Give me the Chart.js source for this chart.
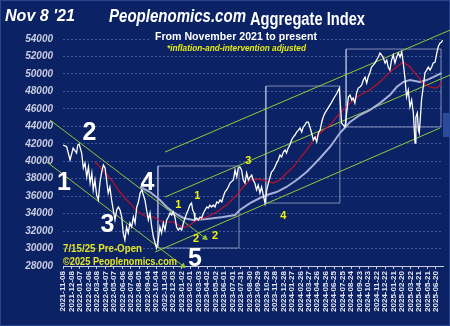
<!DOCTYPE html>
<html><head><meta charset="utf-8">
<script src="https://cdn.jsdelivr.net/npm/chart.js@4.4.1/dist/chart.umd.min.js"></script>
<style>html,body{margin:0;padding:0;background:#0c2364;}canvas{display:block}</style>
</head><body><canvas id="c" width="450" height="326"></canvas>
<script>
// ---- tick labels ----
const xTickLabels = ['2021-11-08','2021-12-08','2022-01-07','2022-02-06','2022-03-08','2022-04-07','2022-05-07','2022-06-06','2022-07-06','2022-08-05','2022-09-04','2022-10-04','2022-11-03','2022-12-03','2023-01-02','2023-02-01','2023-03-03','2023-04-02','2023-05-02','2023-06-01','2023-07-01','2023-07-31','2023-08-30','2023-09-29','2023-10-29','2023-11-28','2023-12-28','2024-01-27','2024-02-26','2024-03-27','2024-04-26','2024-05-26','2024-06-25','2024-07-25','2024-08-24','2024-09-23','2024-10-23','2024-11-22','2024-12-22','2025-01-21','2025-02-20','2025-03-22','2025-04-21','2025-05-21','2025-06-20'];
const yTicks = [28000,30000,32000,34000,36000,38000,40000,42000,44000,46000,48000,50000,52000,54000];
const xEndDate = '2025-07-15';

// ---- series (days since 2021-11-08, index value) ----
const priceDays = [0,13,25,36,48,52,57,66,72,78,84,90,96,102,107,113,119,125,131,137,143,149,155,160,166,172,178,184,190,196,202,208,213,219,225,231,237,243,249,255,261,266,273,279,290,296,302,308,314,320,326,331,337,343,349,355,361,367,373,379,385,390,396,402,408,414,420,426,432,438,443,449,455,459,464,467,473,479,485,491,497,503,509,514,520,526,532,538,544,550,556,562,567,573,579,585,591,603,609,615,620,626,632,638,644,650,656,662,668,673,679,685,691,697,703,709,715,721,727,733,738,744,750,756,762,768,774,780,786,791,797,803,809,815,821,827,833,839,845,850,856,862,868,874,880,886,892,898,904,910,916,921,927,938,949,959,970,978,986,998,1004,1010,1016,1022,1027,1033,1039,1045,1051,1057,1063,1069,1075,1080,1086,1092,1098,1104,1110,1116,1122,1128,1134,1140,1146,1151,1157,1163,1169,1175,1181,1187,1193,1199,1204,1210,1216,1222,1228,1234,1240,1246,1249,1254,1258,1261,1266,1269,1275,1281,1287,1293,1299,1305,1310,1317,1323,1328,1334,1340,1344];
const priceValues = [41850,41660,40140,41510,40940,41850,41970,40940,39220,39790,38190,39340,37500,38650,36700,37850,36130,35560,37620,38760,39560,39220,37620,36360,37050,35560,34410,33270,34410,34760,34410,33610,31780,30980,32470,31780,32920,32470,33610,32920,34760,35210,36360,36700,35560,34410,33270,34070,32470,31320,30630,30060,30980,32470,31780,32920,32120,33270,33610,34070,33840,34180,33610,32470,32120,32350,32120,32920,33500,34070,34410,34980,35210,34410,34070,33270,33500,33270,33610,33500,34070,34410,34760,34640,34980,34760,34980,34760,35330,35210,35560,35330,35900,36470,36700,37050,37500,37850,38990,38190,39220,39340,38990,37850,37500,38650,37850,38190,38420,37850,37500,36700,37270,36360,37050,36130,35210,36700,37500,38190,38760,38990,39340,39790,40140,40710,40480,41050,41280,40940,41510,41850,42430,42770,43000,43340,43570,43800,43340,43920,44140,44490,44490,43920,43230,42430,42770,42200,43230,43570,44490,45060,45520,46090,46660,47240,47810,48380,44370,43920,45520,47350,47580,47010,47240,46660,47810,48380,48500,48720,49300,49640,48950,49640,50100,50790,51010,51240,51590,51930,52390,52160,51820,51240,51590,50790,50440,51590,52160,51240,51930,52390,51930,52500,51360,49640,47350,48150,46210,47010,45520,42080,45060,45520,43570,43230,45520,47010,48500,50100,50440,50790,50440,50790,51240,51360,52390,53080,53530,53650,53880];

const fastAvgDays = [113,125,149,172,196,219,243,266,290,320,355,390,420,438,449,473,509,544,579,615,638,662,685,709,744,768,791,815,839,862,886,910,945,980,1016,1051,1086,1122,1157,1181,1204,1228,1252,1275,1299,1317,1328,1340];
const fastAvgValues = [39910,39560,38650,37850,36700,35790,34980,34180,33730,33610,33040,33040,32470,32470,32700,33270,33610,34180,34980,36130,37050,37850,37960,37850,37500,37850,38650,39340,40370,41280,42430,43230,44140,45520,46660,47580,48150,49070,50210,50790,51360,50790,49870,48950,48500,48380,48500,49070];

const slowAvgDays = [273,308,343,367,390,426,461,509,567,609,626,662,697,721,756,791,827,862,886,910,945,980,1016,1051,1086,1122,1157,1181,1204,1228,1263,1287,1310,1340];
const slowAvgValues = [37050,36470,35560,34760,34180,33500,33270,33380,33610,33840,34410,35210,35790,36130,36470,37050,37850,38760,39560,40370,41630,43230,44490,45290,45860,46660,47580,48500,49070,49300,49070,49300,49640,50100];

// ---- trend lines (day, value endpoints) ----
const trend1Days = [-57,425],  trend1Values = [39910,28000];
const trend2Days = [-46,503],  trend2Values = [44720,31210];
const trend3Days = [361,1370], trend3Values = [41050,55020];
const trend4Days = [361,1370], trend4Values = [35900,49870];
const trend5Days = [326,1334], trend5Values = [29600,43800];

// ---- boxes (day range, value range) ----
const boxADays = [336,623],  boxAValues = [30060,39450];
const boxBDays = [718,980],  boxBValues = [35210,48610];
const boxCDays = [1002,1338],boxCValues = [43920,52850];

const dayOf = s => Math.round((Date.parse(s) - Date.parse(xTickLabels[0])) / 864e5);
const pts = (xs, ys) => xs.map((x, i) => ({x, y: ys[i]}));
const rect = (xs, ys) => [{x:xs[0],y:ys[0]},{x:xs[1],y:ys[0]},{x:xs[1],y:ys[1]},{x:xs[0],y:ys[1]},{x:xs[0],y:ys[0]}];

const BG = '#0b2264';
const GREEN = '#94c83c';
const BOXC = 'rgba(190,196,226,0.65)';

const trendDs = (xs, ys, arrow) => ({
  data: pts(xs, ys), borderColor: GREEN, borderWidth: 1, clip: false,
  pointRadius: arrow ? [0, 3.5] : 0, pointStyle: 'triangle', pointRotation: [0, 127],
  pointBackgroundColor: GREEN, pointBorderColor: GREEN, pointBorderWidth: 0
});
const boxDs = (xs, ys) => ({data: rect(xs, ys), borderColor: BOXC, borderWidth: 1, pointRadius: 0, clip: false});

function fitText(ctx, text, x, baseY, w, font, color) {
  ctx.save();
  ctx.font = font; ctx.fillStyle = color; ctx.textBaseline = 'alphabetic'; ctx.textAlign = 'left';
  const m = ctx.measureText(text).width;
  ctx.translate(x, baseY); ctx.scale(w / m, 1); ctx.fillText(text, 0, 0);
  ctx.restore();
}
function cText(ctx, text, cx, cy, font, color) {
  ctx.save(); ctx.font = font; ctx.fillStyle = color; ctx.textAlign = 'center'; ctx.textBaseline = 'middle';
  ctx.fillText(text, cx, cy); ctx.restore();
}

const bgPlugin = {
  id: 'bg',
  beforeDraw(chart) {
    const c = chart.ctx;
    c.save(); c.fillStyle = BG; c.fillRect(0, 0, chart.width, chart.height);
    c.strokeStyle = '#2a4590'; c.lineWidth = 1; c.strokeRect(0.5, 0.5, chart.width - 1, chart.height - 1);
    c.restore();
  },
  afterDraw(chart) {
    const c = chart.ctx;
    const F = 'Liberation Sans, Arial, sans-serif';
    // header
    c.save(); c.fillStyle = BG; c.fillRect(150, 29, 170, 25); c.restore();
    fitText(c, "Nov 8 '21", 5, 21, 70, 'italic bold 16px ' + F, '#ffffff');
    fitText(c, 'Peoplenomics.com', 109, 22, 137, 'italic bold 18px ' + F, '#ffffff');
    fitText(c, 'Aggregate Index', 250, 25, 115, 'bold 18px ' + F, '#ffffff');
    fitText(c, 'From November 2021 to present', 155, 40, 162, 'bold 11px ' + F, '#ffffff');
    fitText(c, '*inflation-and-intervention adjusted', 167, 51, 139, 'italic bold 9px ' + F, '#e8ec14');
    // big wave numbers
    const big = 'bold 25px ' + F;
    [['1',64,190],['2',89.5,140],['3',107.5,232],['4',147.5,190],['5',195,266]].forEach(([t,x,y]) => {
      c.save(); c.font = big; c.fillStyle = '#ffffff'; c.textAlign = 'center'; c.textBaseline = 'alphabetic'; c.fillText(t, x, y); c.restore();
    });
    // small yellow numbers
    const sm = 'bold 11px ' + F;
    [['1',178.3,205],['1',197.3,196],['2',196,239],['2',215,236],['3',248.3,161],['4',283.3,216]].forEach(([t,x,y]) => cText(c, t, x, y, sm, '#f2f20a'));
    // footer texts
    fitText(c, '7/15/25 Pre-Open', 63, 252, 79, 'bold 10px ' + F, '#e4e428');
    fitText(c, '\u00a92025 Peoplenomics.com', 63, 265, 114, 'bold 10px ' + F, '#e4e428');
    // side marker
    c.save(); c.fillStyle = '#2a4b9a'; c.fillRect(443, 113, 7, 24); c.restore();
  }
};

new Chart(document.getElementById('c').getContext('2d'), {
  type: 'line',
  data: {
    datasets: [
      {data: pts(priceDays, priceValues), borderColor: '#ffffff', borderWidth: 1.3, pointRadius: 0},
      {data: pts(fastAvgDays, fastAvgValues), borderColor: '#c0102c', borderWidth: 1.2, pointRadius: 0},
      {data: pts(slowAvgDays, slowAvgValues), borderColor: '#a8afd8', borderWidth: 2, pointRadius: 0},
      trendDs(trend1Days, trend1Values, true),
      trendDs(trend2Days, trend2Values, true),
      trendDs(trend3Days, trend3Values, false),
      trendDs(trend4Days, trend4Values, false),
      trendDs(trend5Days, trend5Values, false),
      boxDs(boxADays, boxAValues),
      boxDs(boxBDays, boxBValues),
      boxDs(boxCDays, boxCValues)
    ]
  },
  options: {
    responsive: false, animation: false, devicePixelRatio: 1,
    layout: {padding: {top: 39, right: 7, left: 0, bottom: 0}},
    plugins: {legend: {display: false}, tooltip: {enabled: false}},
    elements: {line: {tension: 0}, point: {radius: 0}},
    scales: {
      x: {
        type: 'linear', min: 0, max: dayOf(xEndDate),
        afterBuildTicks: a => { a.ticks = xTickLabels.map(l => ({value: dayOf(l)})); },
        afterFit: s => { s.height = 60; },
        ticks: {autoSkip: false, minRotation: 90, maxRotation: 90, padding: 2, color: '#e4e6f0',
          font: {family: 'Liberation Sans', size: 8, weight: 'bold'},
          callback: (v, i) => xTickLabels[i]},
        grid: {drawOnChartArea: false, drawTicks: true, tickLength: 3, color: '#c8cce0'},
        border: {display: true, color: '#c8cce0', width: 1}
      },
      y: {
        min: 28000, max: 54000,
        afterBuildTicks: a => { a.ticks = yTicks.map(v => ({value: v})); },
        afterFit: s => { s.width = 63; },
        ticks: {padding: 10, color: '#c9cde0', font: {family: 'Liberation Sans', size: 10, style: 'italic', weight: 'bold'},
          callback: v => String(v)},
        grid: {drawTicks: false, color: 'rgba(120,145,210,0.5)', lineWidth: 1},
        border: {display: false, dash: [2, 2]}
      }
    }
  },
  plugins: [bgPlugin]
});
</script></body></html>
